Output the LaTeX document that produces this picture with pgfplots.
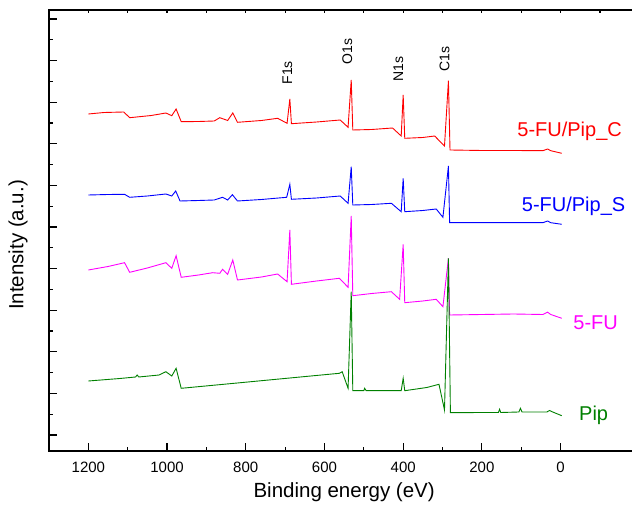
\documentclass[border=0pt]{standalone}
\usepackage{pgfplots}
\pgfplotsset{compat=1.18}
\usepackage{fontspec}
\setmainfont{Liberation Sans}
\definecolor{cR}{RGB}{255,0,0}
\definecolor{cB}{RGB}{0,0,255}
\definecolor{cM}{RGB}{255,0,255}
\definecolor{cG}{RGB}{0,128,0}
\begin{document}
\begin{tikzpicture}
\begin{axis}[name=ax, scale only axis, width=590.3pt, height=441pt,
  x dir=reverse, xmin=-200, xmax=1300, ymin=1, ymax=442,
  axis line style={line width=1.3pt},
  xtick={0,200,...,1200}, minor x tick num=1, xtick pos=lower,
  ytick={17,58.6,100.2,141.8,183.4,225,266.6,308.2,349.8,391.4,433}, yticklabels={}, minor y tick num=1,
  ytick pos=left,
  tick align=inside,
  major tick length=8pt, minor tick length=4pt,
  every tick/.style={line width=1.2pt, black},
  /pgf/number format/assume math mode=true, /pgf/number format/1000 sep={},
  xticklabel style={font=\fontsize{15}{18}\selectfont, yshift=-7pt},
  xlabel={Binding energy (eV)}, ylabel={Intensity (a.u.)},
  xlabel style={font=\fontsize{20.5}{24}\selectfont, yshift=-4pt},
  ylabel style={font=\fontsize{20.5}{24}\selectfont, at={(axis description cs:-0.0525,0.467)}, anchor=center, rotate=0},
  clip=false]
% Pip_C (red)
\addplot[cR, line width=0.9pt] coordinates {
(1200,338) (1160,339.5) (1110,340) (1095,334.3) (1040,336.5) (1003,339) (988,336.3) (977,343) (964,330.3)
(920,330.5) (880,331) (866,334.3) (846,331.5) (833,339) (821,329.7) (760,331.5) (719,333.7) (695,328.7)
(688,353) (684,328.3) (620,330) (560,332) (540,324.7) (532,372) (528,322) (480,322.5) (427,324) (405,316) (400,357)
(396,313.7) (350,314.5) (320,316) (295,306) (285,371.3) (281,302) (200,301.5) (120,301.5) (45,301.3) (33,303) (25,301.3) (-3,298.7)};
% Pip_S (blue)
\addplot[cB, line width=0.9pt] coordinates {
(1200,257) (1150,257.5) (1108,257.7) (1095,254.7) (1050,256) (1003,258) (988,256) (978,261) (967,251)
(920,251.5) (880,252) (859,254.7) (846,252) (834,257.3) (821,251) (760,252.5) (696,254.7) (688,267.7) (684,252.7)
(620,254) (560,256) (540,248.7) (532,285.3) (528,247) (480,247.5) (430,248.7) (405,240.3) (400,273.7) (396,240.3)
(350,241.5) (316,243) (299,234.7) (285,286) (282,229.3) (200,229.3) (120,229.3) (45,229.3) (33,231) (25,229.3) (-3,227.7)};
% 5-FU (magenta)
\addplot[cM, line width=0.9pt] coordinates {
(1200,182) (1150,185.5) (1108,189.3) (1095,179.7) (1050,184) (1003,189.3) (988,183.7) (977,196.3) (964,174.7)
(920,177) (884,179.3) (866,178.7) (859,182.7) (846,177.7) (833,192) (821,172) (760,175) (719,178) (695,170.3)
(688,222) (684,167.7) (620,171) (562,173.7) (540,164.7) (532,236) (528,156.3) (480,158.5) (430,160.3) (409,152.7) (400,207.7)
(396,149.3) (350,151) (316,152.7) (299,145.3) (285,193.7) (282,137) (200,137.5) (120,138) (45,137.5) (33,139.8) (25,137.5) (-3,133.7)};
% Pip (green)
\addplot[cG, line width=0.9pt] coordinates {
(1200,71) (1120,73.5) (1080,75) (1076,77) (1072,75) (1020,77) (1003,80.3) (988,76) (977,83.7) (964,63.7)
(800,69.8) (640,75.8) (562,78.7) (555,80.3) (540,63.7) (532,160.3) (528,61.3) (500,61.3) (498,63.7) (494,61.3)
(405,61.3) (400,73.7) (396,61.3) (340,64.5) (309,67.7) (295,42) (285,193.7) (280,39.3)
(200,39.5) (158,39.5) (155,42.7) (152,39.5) (106,40) (102,43.7) (98,40) (35,40) (28,41.5) (20,40) (-3,36.3)};
% peak labels
\node[rotate=90, anchor=west, font=\fontsize{14}{16}\selectfont] at (axis cs:694,364) {F1s};
\node[rotate=90, anchor=west, font=\fontsize{14}{16}\selectfont] at (axis cs:542,384) {O1s};
\node[rotate=90, anchor=west, font=\fontsize{14}{16}\selectfont] at (axis cs:412,367) {N1s};
\node[rotate=90, anchor=west, font=\fontsize{14}{16}\selectfont] at (axis cs:295,377) {C1s};
% sample labels
\node[text=cR, font=\fontsize{20}{24}\selectfont] at (axis cs:-23,320.3) {5-FU/Pip\_C};
\node[text=cB, font=\fontsize{20}{24}\selectfont] at (axis cs:-33,245.3) {5-FU/Pip\_S};
\node[text=cM, font=\fontsize{20}{24}\selectfont] at (axis cs:-89,129.3) {5-FU};
\node[text=cG, font=\fontsize{20}{24}\selectfont] at (axis cs:-84,37) {Pip};
\end{axis}
\begin{axis}[at={(ax.south west)}, anchor=south west, scale only axis, width=590.3pt, height=441pt,
  x dir=reverse, xmin=-200, xmax=1300, ymin=1, ymax=442,
  axis line style={draw=none}, ytick=\empty,
  xtick={-100,0,100,...,1200}, xticklabels={}, xtick pos=upper, xtick align=inside, major tick length=3.5pt,
  every tick/.style={line width=1.2pt, black}]
\end{axis}
\pgfresetboundingbox
\path[use as bounding box] ([xshift=-49pt,yshift=-65pt]ax.south west) rectangle ([xshift=583pt,yshift=10pt]ax.north west);
\end{tikzpicture}
\end{document}
